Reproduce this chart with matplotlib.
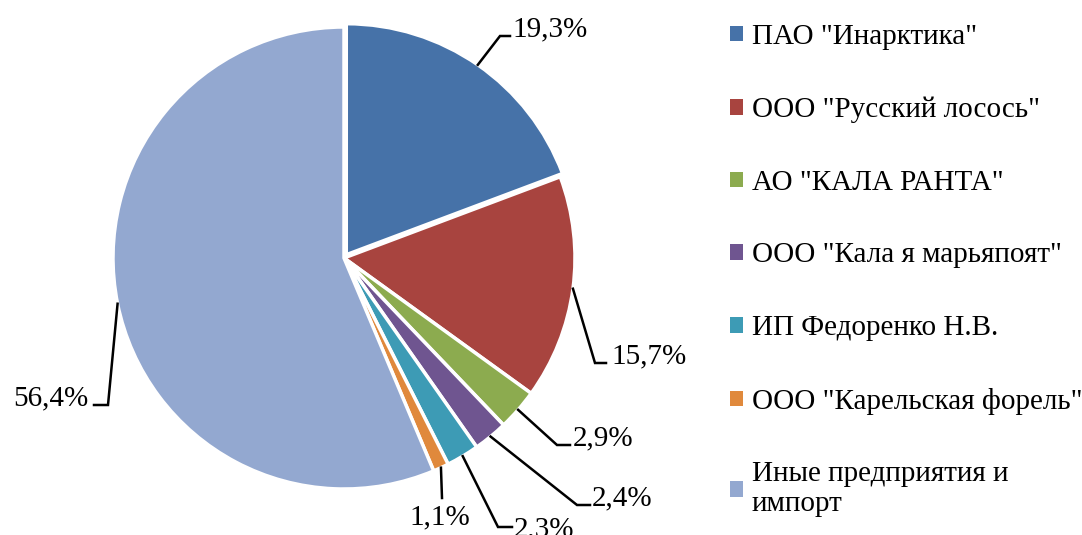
import numpy as np
import matplotlib
import matplotlib.pyplot as plt
from matplotlib.patches import Patch

# Use a non-interactive backend
matplotlib.use("Agg")

# Data
labels = [
    'ПАО "Инарктика"',
    'ООО "Русский лосось"',
    'АО "КАЛА РАНТА"',
    'ООО "Кала я марьяпоят"',
    'ИП Федоренко Н.В.',
    'ООО "Карельская форель"',
    'Иные предприятия и\nимпорт',
]
shares = [19.3, 15.7, 2.9, 2.4, 2.3, 1.1, 56.4]
colors = ["#4672A8", "#A8443F", "#8CAB4F", "#6F5590", "#3D9BB5", "#E0893C", "#93A8D0"]

W, H = 1082, 535
plt.rcParams["font.family"] = ["Liberation Serif", "DejaVu Serif"]
FS = 21

fig = plt.figure(figsize=(W / 100, H / 100), dpi=100)
ax = fig.add_axes([0, 0, 1, 1])

# pie geometry in pixel units (y measured upward)
cx, cy, r = 344, H - 258, 231
wedges, _ = ax.pie(shares, colors=colors, startangle=90, counterclock=False,
                   center=(cx, cy), radius=r, explode=[4, 0, 0, 0, 0, 0, 0],
                   wedgeprops=dict(edgecolor="white", linewidth=2.5))
ax.set_xlim(0, W)
ax.set_ylim(0, H)
ax.set_aspect("equal")
ax.axis("off")

# label layout: elbow point, end of horizontal stub, text anchor (pixels from top-left)
label_layout = [
    ((500, 36), (510, 36), (512, 36), "left", "baseline"),
    ((595, 363), (606, 363), (611, 363), "left", "baseline"),
    ((557, 445), (570, 445), (573, 445), "left", "baseline"),
    ((577, 505), (590, 505), (592, 505), "left", "baseline"),
    ((498, 527), (512, 527), (514, 536), "left", "baseline"),
    ((442, 498), (442, 498), (440, 504), "center", "top"),
    ((108, 405), (94, 405), (88, 405), "right", "baseline"),
]

for w, val, (elbow, stub, txt, ha, va) in zip(wedges, shares, label_layout):
    ang = np.deg2rad((w.theta1 + w.theta2) / 2)
    x0 = w.center[0] + r * np.cos(ang)
    y0 = w.center[1] + r * np.sin(ang)
    xs = [x0, elbow[0], stub[0]]
    ys = [y0, H - elbow[1], H - stub[1]]
    ax.plot(xs, ys, color="black", lw=1.8, solid_joinstyle="miter")
    ax.text(txt[0], H - txt[1], f"{val:.1f}%".replace(".", ","),
            ha=ha, va=va, fontsize=FS)

handles = [Patch(facecolor=c, edgecolor="none") for c in colors]
fig.legend(handles, labels, loc="upper left", bbox_to_anchor=(730 / W, 1 - 24 / H),
           frameon=False, fontsize=FS, handlelength=0.45, handleheight=0.45,
           handletextpad=0.3, labelspacing=1.6, borderpad=0, borderaxespad=0)

fig.savefig("out.png", dpi=100)
